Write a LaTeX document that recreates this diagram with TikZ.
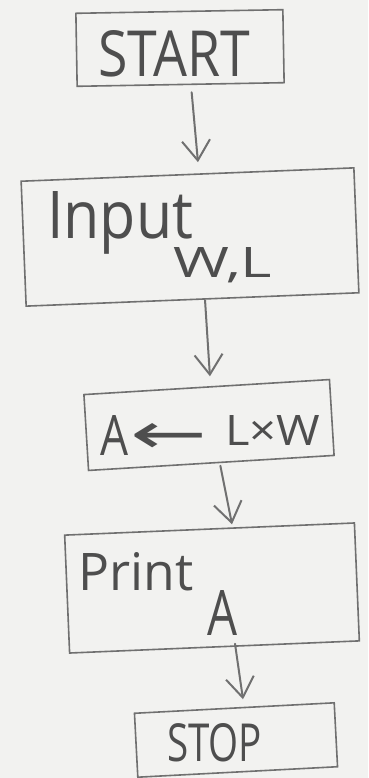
\documentclass[tikz,border=0pt]{standalone}
\usepackage{fontspec}
\usepackage{graphicx}
\setmainfont{Open Sans}
\newfontfamily\djv{DejaVu Sans}
\usetikzlibrary{arrows.meta}
\definecolor{paper}{RGB}{242,242,240}
\definecolor{pencil}{RGB}{112,112,112}
\definecolor{ink}{RGB}{78,78,78}
\tikzset{
  box/.style={draw=pencil, line width=1.6pt, inner sep=0pt, rectangle},
  txt/.style={text=ink, inner sep=0pt, anchor=base west},
  arr/.style={draw=pencil, line width=2pt, line cap=round,
    -{Straight Barb[length=20pt,width=28pt,line width=2pt]}}
}
\begin{document}
\begin{tikzpicture}[x=1pt,y=-1pt]
\fill[paper] (0,0) rectangle (368,778);
\useasboundingbox (0,0) rectangle (368,778);
% boxes
\node[box, minimum width=207pt, minimum height=73pt, rotate=1]   (start) at (180,48) {};
\node[box, minimum width=333pt, minimum height=125pt, rotate=2.3] (input) at (190,237) {};
\node[box, minimum width=246pt, minimum height=76pt, rotate=3.5] (calc)  at (209,425) {};
\node[box, minimum width=290pt, minimum height=118pt, rotate=2.4] (print) at (212,588) {};
\node[box, minimum width=200pt, minimum height=64pt, rotate=3]   (stop)  at (236,740) {};
% texts
\node[txt] (tstart) at (98,77)  {\resizebox{152pt}{46pt}{START}};
\node[txt] (tinput) at (47,238) {\resizebox{146pt}{47pt}{Input}};
\node[txt] (twl)    at (173,277) {\resizebox{99pt}{30pt}{W,L}};
\node[txt] (tcalc)  at (100,455) {\resizebox{28pt}{40pt}{A}\hspace{2pt}\raisebox{2pt}{\resizebox{77pt}{30pt}{\djv ←}}\hspace{18pt}\raisebox{10pt}{\resizebox{95pt}{30pt}{L×W}}};
\node[txt] (tprint) at (78,590) {\resizebox{115pt}{38pt}{Print}};
\node[txt] (ta)     at (207,635) {\resizebox{30pt}{45pt}{A}};
\node[txt] (tstop)  at (167,761) {\resizebox{95pt}{38pt}{STOP}};
% connectors
\draw[arr] ([xshift=11pt,yshift=-7pt]start.south) -- ([xshift=10.5pt,yshift=11.6pt]input.north);
\draw[arr] ([xshift=12.5pt]input.south) -- ([xshift=3.3pt,yshift=10pt]calc.north);
\draw[arr] ([xshift=9pt,yshift=-2pt]calc.south) -- ([xshift=22.5pt,yshift=4pt]print.north);
\draw[arr] ([xshift=20.5pt,yshift=4pt]print.south) -- ([xshift=8.7pt,yshift=8pt]stop.north);
\end{tikzpicture}
\end{document}
